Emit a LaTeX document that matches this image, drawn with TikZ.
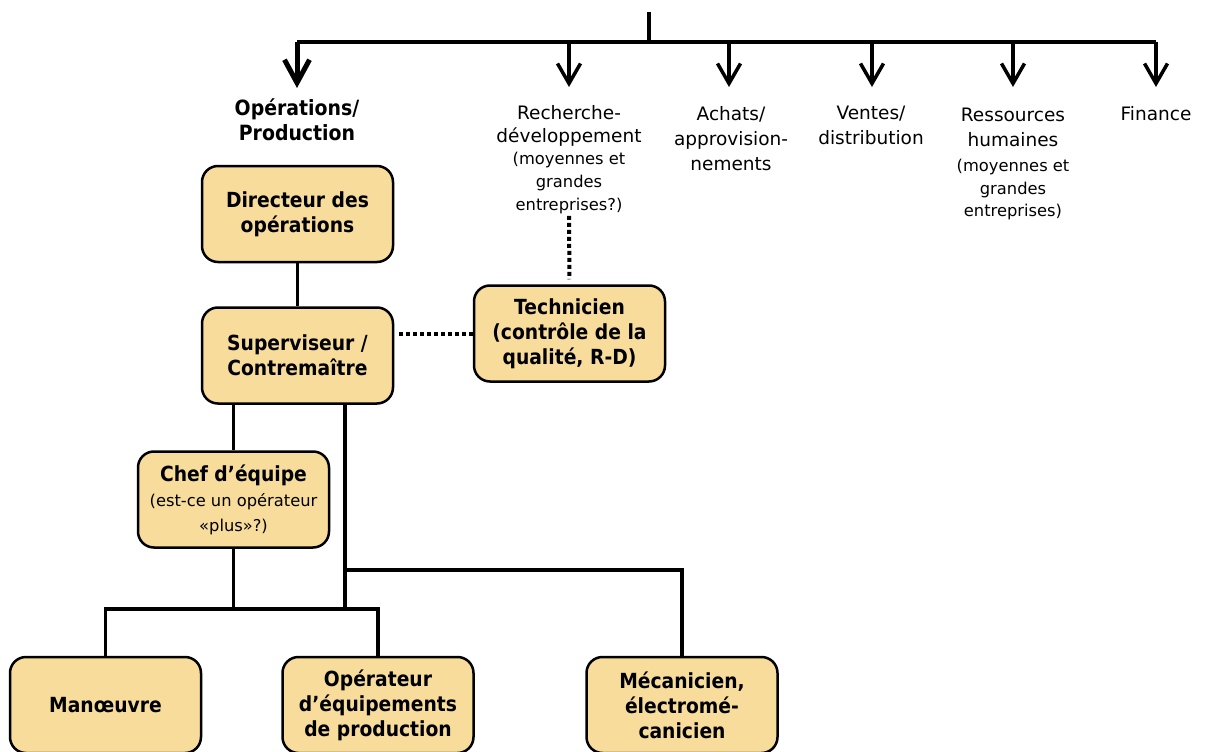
\documentclass[tikz,border=0pt]{standalone}
\usepackage{fontspec}
\setmainfont{DejaVu Sans}[BoldFeatures={FakeStretch=0.9}]
\usetikzlibrary{arrows.meta}
\definecolor{boxfill}{RGB}{247,220,156}
\newcommand{\subtxt}[1]{{\fontsize{16.3}{22.75}\selectfont #1}}
\newcommand{\chefsub}[1]{{\fontsize{16.3}{22}\selectfont\mdseries #1}}
\begin{document}
\begin{tikzpicture}[x=1pt,y=-1pt,
  orgbox/.style={draw=black, line width=2.5pt, rounded corners=16pt, fill=boxfill,
    minimum width=191pt, minimum height=96pt, align=center, inner sep=0pt,
    font=\bfseries\fontsize{20.8}{25}\selectfont},
  link/.style={line width=3.2pt},
  dotlink/.style={line width=4pt, dash pattern=on 4pt off 3pt},
  deptarrow/.style={line width=3.5pt, -{Straight Barb[length=20pt,width=23pt]}},
  dept/.style={align=center, inner sep=0pt, anchor=north,
    font=\fontsize{18.5}{25}\selectfont},
]
\useasboundingbox (0,0) rectangle (1208,752);

% top-level distribution bus
\coordinate (root) at (649,12);
\coordinate (busL) at (297,42);
\coordinate (busR) at (1156,42);
\draw[link] (root) -- (root |- busL);
\draw[link] (busL) -- (busR);

% arrow tips
\coordinate (tOps) at (297,88);
\coordinate (tRD)  at (569,87);
\coordinate (tAch) at (729,87);
\coordinate (tVen) at (872,87);
\coordinate (tRes) at (1013,87);
\coordinate (tFin) at (1156,87);

\draw[line width=5pt, -{Straight Barb[length=23pt,width=25pt]}] (tOps |- busL) -- (tOps);
\foreach \t in {tRD,tAch,tVen,tRes,tFin}
  \draw[deptarrow] (\t |- busL) -- (\t);

% department labels
\node[dept, font=\bfseries\fontsize{21}{25}\selectfont] (ops) at (297,99) {Opérations/\\Production};
\node[dept, font=\fontsize{18.5}{22.75}\selectfont] (rd) at (569,105)
  {Recherche-\\développement\\\subtxt{(moyennes et}\\\subtxt{grandes}\\\subtxt{entreprises?)}};
\node[dept] (ach) at (731,106) {Achats/\\approvision-\\nements};
\node[dept] (ven) at (871,106) {Ventes/\\distribution};
\node[dept] (res) at (1013,108)
  {Ressources\\humaines\\\subtxt{(moyennes et}\\[-2.5pt]\subtxt{grandes}\\[-2.5pt]\subtxt{entreprises)}};
\node[dept] (fin) at (1156,106) {Finance};

% operations hierarchy
\node[orgbox] (dir)  at (297.5,214)   {Directeur des\\opérations};
\node[orgbox] (sup)  at (297.5,355.5) {Superviseur /\\Contremaître};
\node[orgbox] (tech) at (569.5,333.5) {Technicien\\(contrôle de la\\qualité, R-D)};
\node[orgbox] (chef) at (233.5,499.5) {Chef d’équipe\\\chefsub{(est-ce un opérateur}\\\chefsub{«plus»?)}};
\node[orgbox] (man)  at (105.5,705)   {Manœuvre};
\node[orgbox] (op)   at (378,705)     {Opérateur\\d’équipements\\de production};
\node[orgbox] (mec)  at (682,705)     {Mécanicien,\\électromé-\\canicien};

% solid reporting lines
\draw[link] (dir) -- (sup);
\coordinate (j1) at (345,609);
\coordinate (j2) at (345,570);
\draw[link] (sup.south -| j1) -- (j1);
\draw[link] (sup.south -| chef.north) -- (chef.north);
\draw[link] (chef.south) -- (chef.south |- j1);
\draw[link] (man.north) -- (man.north |- j1) -- (op.north |- j1) -- (op.north);
\draw[link] (j2) -- (j2 -| mec.north) -- (mec.north);

% dotted functional links
\draw[dotlink, shorten <=5pt] (tech.west -| sup.east) -- (tech.west);
\draw[dotlink, shorten <=2pt, shorten >=5pt] (rd.south) -- (tech.north);
\end{tikzpicture}
\end{document}
